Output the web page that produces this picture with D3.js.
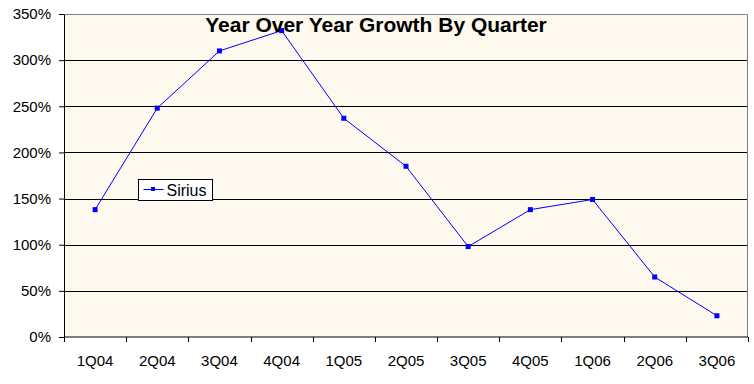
<!DOCTYPE html>
<html>
<head>
<meta charset="utf-8">
<script src="https://cdn.jsdelivr.net/npm/d3@7"></script>
<style>
  body { margin: 0; background: #fff; }
  svg { display: block; font-family: Arial, "Liberation Sans", sans-serif; }
</style>
</head>
<body>
<div id="chart"></div>
<script>
// data
const quarters = ["1Q04", "2Q04", "3Q04", "4Q04", "1Q05", "2Q05", "3Q05", "4Q05", "1Q06", "2Q06", "3Q06"];
const siriusGrowth = [138, 248, 310, 332, 237, 185, 98, 138, 149, 65, 23];
const yTicks = [0, 50, 100, 150, 200, 250, 300, 350];

const width = 754, height = 384;
const margin = { top: 14, right: 6, bottom: 47, left: 64 };
const plotW = width - margin.left - margin.right;
const plotH = height - margin.top - margin.bottom;

const svg = d3.select("#chart").append("svg")
    .attr("width", width)
    .attr("height", height);

const g = svg.append("g")
    .attr("transform", "translate(" + margin.left + "," + margin.top + ")");

const x = d3.scaleBand().domain(quarters).range([0, plotW]);
const y = d3.scaleLinear().domain([0, 350]).range([plotH, 0]);

// plot background
g.append("rect")
    .attr("width", plotW)
    .attr("height", plotH)
    .attr("fill", "#fdf9ee");

// gridlines
g.selectAll(".grid")
    .data(yTicks.filter(d => d > 0 && d < 350))
    .enter().append("line")
    .attr("x1", 0).attr("x2", plotW)
    .attr("y1", d => Math.round(y(d)) + 0.5)
    .attr("y2", d => Math.round(y(d)) + 0.5)
    .attr("stroke", "#000");

// top and right border
g.append("path")
    .attr("d", "M0,0.5H" + (plotW - 0.5) + "V" + plotH)
    .attr("fill", "none")
    .attr("stroke", "#808080");

// y axis
const yAxis = g.append("g")
    .call(d3.axisLeft(y).tickValues(yTicks).tickFormat(d => d + "%").tickSize(5).tickSizeOuter(0));
yAxis.select(".domain").attr("stroke", "#000");
yAxis.selectAll("text")
    .attr("font-size", 15)
    .attr("font-family", "Arial, 'Liberation Sans', sans-serif")
    .attr("fill", "#000")
    .attr("x", -13);

// x axis, ticks between categories
const xAxis = g.append("g")
    .attr("transform", "translate(0," + plotH + ")");
xAxis.append("line")
    .attr("x1", 0).attr("x2", plotW)
    .attr("stroke", "#000");
xAxis.selectAll(".xtick")
    .data(quarters.concat(["end"]))
    .enter().append("line")
    .attr("x1", (d, i) => Math.round(i * x.step()) + 0.5)
    .attr("x2", (d, i) => Math.round(i * x.step()) + 0.5)
    .attr("y1", 0).attr("y2", 5)
    .attr("stroke", "#000");
xAxis.selectAll(".xlabel")
    .data(quarters)
    .enter().append("text")
    .attr("x", d => x(d) + x.bandwidth() / 2)
    .attr("y", 29)
    .attr("text-anchor", "middle")
    .attr("font-size", 15)
    .text(d => d);

// Sirius line
const line = d3.line()
    .x((d, i) => x(quarters[i]) + x.bandwidth() / 2)
    .y(d => y(d));

g.append("path")
    .datum(siriusGrowth)
    .attr("d", line)
    .attr("fill", "none")
    .attr("stroke", "#0000ff")
    .attr("stroke-width", 1);

g.selectAll(".marker")
    .data(siriusGrowth)
    .enter().append("rect")
    .attr("x", (d, i) => x(quarters[i]) + x.bandwidth() / 2 - 2.5)
    .attr("y", d => y(d) - 2.5)
    .attr("width", 5)
    .attr("height", 5)
    .attr("fill", "#0000ff");

// title
svg.append("text")
    .attr("x", 376)
    .attr("y", 32)
    .attr("text-anchor", "middle")
    .attr("font-size", 21)
    .attr("font-weight", "bold")
    .text("Year Over Year Growth By Quarter");

// legend
const legend = svg.append("g").attr("transform", "translate(138.5,179.5)");
legend.append("rect")
    .attr("width", 74)
    .attr("height", 21)
    .attr("fill", "#fff")
    .attr("stroke", "#000");
legend.append("line")
    .attr("x1", 5).attr("x2", 25)
    .attr("y1", 10).attr("y2", 10)
    .attr("stroke", "#0000ff");
legend.append("rect")
    .attr("x", 12.5).attr("y", 7.5)
    .attr("width", 4).attr("height", 4)
    .attr("fill", "#0000ff");
legend.append("text")
    .attr("x", 28)
    .attr("y", 16)
    .attr("font-size", 16)
    .text("Sirius");
</script>
</body>
</html>
